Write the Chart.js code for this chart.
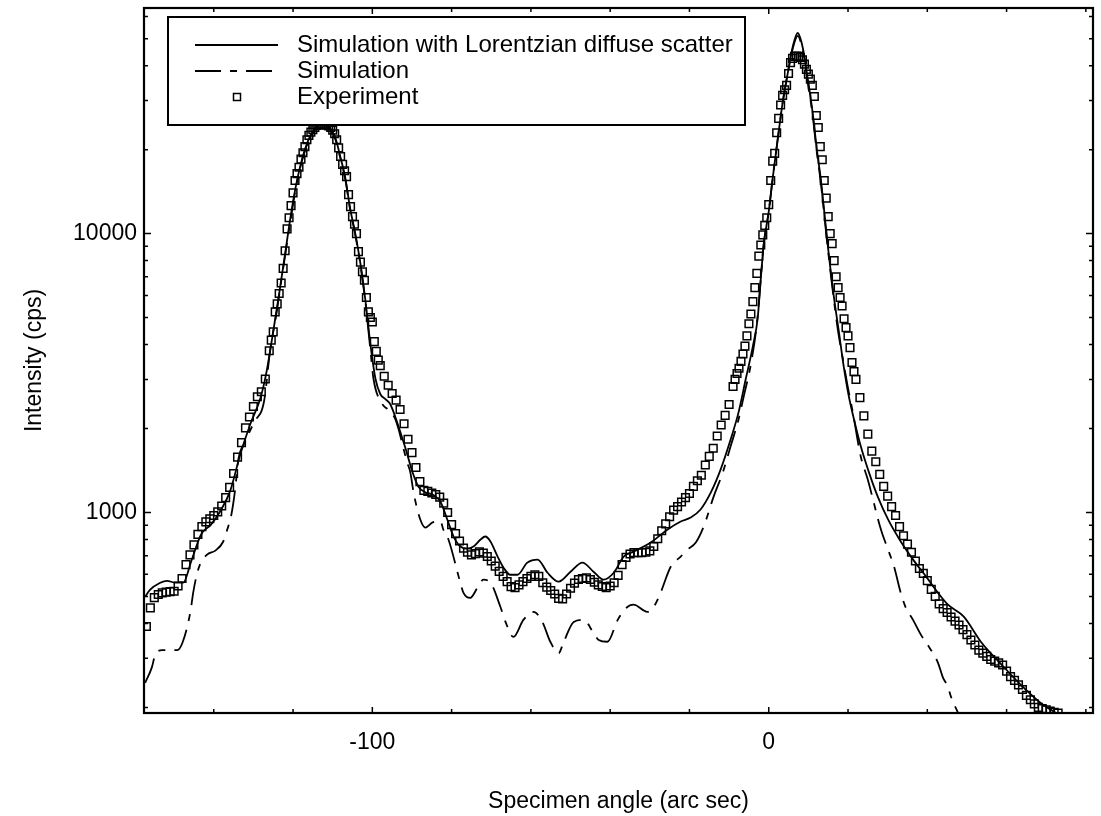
<!DOCTYPE html>
<html>
<head>
<meta charset="utf-8">
<script src="https://cdn.jsdelivr.net/npm/chart.js@4.4.1/dist/chart.umd.min.js"></script>
<style>
  html, body { margin: 0; padding: 0; background: #fff; }
  #wrap { width: 1101px; height: 816px; }
</style>
</head>
<body>
<div id="wrap"><canvas id="myChart"></canvas></div>
<script>
// experiment (open squares)
const expAngle = [
  -157,-156,-155,-154,-153,-152,-151,-150,-149,-148,
  -147,-146,-145,-144,-143,-142,-141,-140,-139,-138,
  -137,-136,-135,-134,-133,-132,-131,-130,-129,-128,
  -127,-126,-125.5,-125,-124.5,-124,-123.5,-123,-122.5,-122,
  -121.5,-121,-120.5,-120,-119.5,-119,-118.5,-118,-117.5,-117,
  -116.5,-116,-115.5,-115,-114.5,-114,-113.5,-113,-112.5,-112,
  -111.5,-111,-110.5,-110,-109.5,-109,-108.5,-108,-107.5,-107,
  -106.5,-106,-105.5,-105,-104.5,-104,-103.5,-103,-102.5,-102,
  -101.5,-101,-100.5,-100,-99.5,-99,-98.5,-98,-97,-96,
  -95,-94,-93,-92,-91,-90,-89,-88,-87,-86,
  -85,-84,-83,-82,-81,-80,-79,-78,-77,-76,
  -75,-74,-73,-72,-71,-70,-69,-68,-67,-66,
  -65,-64,-63,-62,-61,-60,-59,-58,-57,-56,
  -55,-54,-53,-52,-51,-50,-49,-48,-47,-46,
  -45,-44,-43,-42,-41,-40,-39,-38,-37,-36,
  -35,-34,-33,-32,-31,-30,-29,-28,-27,-26,
  -25,-24,-23,-22,-21,-20,-19,-18,-17,-16,
  -15,-14,-13,-12,-11,-10,-9,-8.5,-8,-7.5,
  -7,-6.5,-6,-5.5,-5,-4.5,-4,-3.5,-3,-2.5,
  -2,-1.5,-1,-0.5,0,0.5,1,1.5,2,2.5,
  3,3.5,4,4.5,5,5.5,6,6.5,7,7.5,
  8,8.5,9,9.5,10,10.5,11,11.5,12,12.5,
  13,13.5,14,14.5,15,15.5,16,16.5,17,17.5,
  18,18.5,19,19.5,20,20.5,21,21.5,22,23,
  24,25,26,27,28,29,30,31,32,33,
  34,35,36,37,38,39,40,41,42,43,
  44,45,46,47,48,49,50,51,52,53,
  54,55,56,57,58,59,60,61,62,63,
  64,65,66,67,68,69,70,71,72,73
];
const expCounts = [
  390,455,495,508,515,518,520,522,545,580,
  650,705,765,835,890,925,950,975,1005,1055,
  1130,1230,1380,1580,1780,2010,2200,2400,2600,2710,
  3010,3800,4150,4440,5240,5600,6100,6650,7500,8680,
  10400,11400,12600,14000,15500,16400,17300,18500,19500,20500,
  21700,22500,23100,23600,24000,24400,24550,24650,24700,24600,
  24450,24300,24000,23500,22800,21700,20300,18900,17700,16800,
  16000,13800,12500,11500,10800,10000,8620,7900,7300,6800,
  5900,5240,5000,4820,4100,3780,3520,3360,3080,2860,
  2670,2530,2340,2080,1830,1640,1450,1290,1200,1190,
  1175,1160,1135,1080,1000,905,840,790,745,720,
  705,712,722,715,695,670,642,615,590,565,
  542,538,550,565,580,590,598,590,560,540,
  525,510,492,490,510,535,558,575,580,583,
  575,562,550,543,538,545,560,595,650,690,
  710,718,718,718,720,728,755,805,860,910,
  965,1020,1050,1090,1130,1170,1240,1300,1360,1480,
  1590,1700,1880,2060,2230,2440,2830,3000,3150,3290,
  3480,3700,3950,4300,4750,5150,5700,6400,7200,8300,
  9100,9900,10700,11400,12700,15500,18200,19400,23000,25900,
  28900,31300,32800,34000,37500,41000,42500,43200,43300,43200,
  42800,42000,40500,38800,37300,35800,34000,31000,26500,24000,
  20500,18400,15500,13400,11500,10000,9200,8000,7000,6400,
  5900,5500,4950,4600,4300,3900,3450,3200,3000,2580,
  2220,1910,1660,1520,1370,1240,1145,1050,975,890,
  825,770,720,670,630,605,570,530,500,470,
  452,438,422,408,395,380,365,349,335,321,
  313,305,297,293,289,284,270,258,250,241,
  232,221,213,206,200,198,196,194,192,191
];

// simulation with Lorentzian diffuse scatter (solid)
const lorAngle = [
  -157.3,-156.1,-153.5,-151.8,-149.7,-147.7,-145.7,-143.2,-140.7,-138.4,
  -135.9,-133.3,-130.8,-128.3,-126.8,-125.3,-123.7,-122.0,-120.7,-119.4,
  -118.2,-116.9,-115.7,-114.4,-113.1,-111.9,-110.6,-109.3,-108.1,-106.8,
  -105.6,-104.3,-103.0,-101.8,-100.5,-99.2,-98.0,-96.7,-95.5,-94.2,
  -91.7,-89.9,-88.4,-86.6,-84.8,-82.8,-81.1,-79.5,-77.8,-76.0,
  -74.5,-72.7,-71.5,-70.2,-68.4,-66.9,-65.2,-63.4,-60.9,-58.3,
  -55.8,-53.0,-50.0,-47.0,-44.2,-41.7,-39.1,-36.6,-34.1,-29.8,
  -25.5,-22.2,-19.7,-17.2,-14.6,-12.1,-9.6,-7.6,-5.8,-4.0,
  -2.8,-2.0,-1.3,0.0,1.0,2.3,3.5,4.8,6.1,7.3,
  8.6,9.8,11.1,12.1,13.1,14.9,16.4,17.7,18.9,20.2,
  21.5,23.2,25.3,27.5,30.1,33.3,36.6,39.9,42.7,45.2,
  49.2,53.5,58.6,63.6,68.7,72.5,74.5
];
const lorCounts = [
  499,528,560,569,560,560,667,834,905,1008,
  1190,1617,2073,2550,3135,4190,5840,8470,11320,14520,
  17420,20220,22340,23870,24660,24660,23870,21970,18920,15780,
  12300,10000,7800,5840,4020,3010,2660,2550,2450,2200,
  1710,1400,1240,1180,1160,1090,944,820,755,742,
  755,800,820,787,695,634,598,598,661,678,
  608,565,613,661,613,574,608,695,724,780,
  869,928,959,1025,1180,1430,1830,2290,3010,3950,
  4950,6890,9060,12000,15800,22000,29400,37600,47100,52400,
  46300,36100,27000,20200,15800,9060,5980,4440,3350,2610,
  2160,1730,1390,1140,944,787,672,584,515,467,
  423,344,286,241,207,191,184
];

// simulation (dashed)
const simAngle = [
  -157.3,-155.6,-154.8,-153.0,-149.2,-147.9,-145.9,-145.2,-144.4,-143.4,
  -141.7,-139.6,-137.6,-136.6,-135.6,-134.6,-133.8,-132.3,-129.8,-127.3,
  -125.8,-124.2,-122.7,-120.7,-119.4,-118.2,-116.9,-115.7,-114.4,-113.1,
  -111.9,-110.6,-109.3,-108.1,-106.8,-105.6,-104.3,-103.0,-101.8,-100.5,
  -99.7,-97.5,-96.2,-94.2,-91.2,-90.4,-89.6,-87.9,-86.6,-84.8,
  -82.8,-82.1,-80.8,-77.8,-77.0,-75.3,-73.5,-72.0,-70.2,-67.7,
  -66.4,-64.4,-61.9,-59.3,-57.1,-55.1,-53.0,-51.8,-49.2,-46.7,
  -44.2,-42.9,-40.7,-38.1,-35.6,-34.1,-30.6,-29.0,-27.3,-24.7,
  -22.2,-20.5,-18.4,-16.4,-13.9,-11.6,-9.6,-7.6,-6.3,-4.5,
  -3.0,-2.0,-1.3,0.0,1.0,2.3,3.5,4.8,6.1,7.3,
  8.6,9.8,11.1,12.1,13.1,14.9,16.4,17.4,18.7,19.9,
  21.2,23.2,25.0,28.3,30.1,31.6,33.3,34.6,36.4,38.4,
  40.4,42.7,43.9,45.2,46.0,47.7,49.0
];
const simCounts = [
  245,279,308,321,321,341,440,515,589,655,
  706,730,787,869,975,1210,1550,1770,2110,2510,
  3800,5160,7180,11000,14300,17200,20000,22100,23600,24400,
  24400,23600,21700,18700,15600,12200,9900,7700,5750,3850,
  3010,2450,2350,2160,1510,1390,1180,944,883,921,
  929,869,800,560,515,494,537,574,560,459,
  405,358,412,440,405,344,313,341,405,412,
  370,349,344,412,459,467,440,459,515,640,
  695,736,780,891,1140,1390,1730,2160,2610,3410,
  4750,6890,9060,12000,15800,22000,29400,37600,46300,51200,
  45200,35200,26400,19700,15400,8840,5840,4550,3550,2840,
  2290,1590,1310,869,736,640,515,455,412,364,
  330,289,257,237,218,192,175
];

// axes
const xMin = -157.6, xMax = 81.8;
const yMin = 191, yMax = 64400;
const xTicks = [-140, -120, -100, -80, -60, -40, -20, 0, 20, 40, 60, 80];
const xLabelValues = [-100, 0];
const yTicks = [200, 300, 400, 500, 600, 700, 800, 900,
  1000, 2000, 3000, 4000, 5000, 6000, 7000, 8000, 9000,
  10000, 20000, 30000, 40000, 50000, 60000];
const yLabelValues = [1000, 10000];

const FONT = "'Liberation Sans', Arial, sans-serif";
const dashPattern = [26, 9, 7, 9];

const toPoints = (xs, ys) => xs.map((v, i) => ({ x: v, y: ys[i] }));

const frameAndLegend = {
  id: 'frameAndLegend',
  afterDatasetsDraw(chart) {
    const { ctx, chartArea: a, scales: { x, y } } = chart;
    ctx.save();
    ctx.strokeStyle = '#000';
    ctx.lineWidth = 1.5;
    ctx.setLineDash([]);
    ctx.beginPath();
    xTicks.forEach(v => {
      const px = x.getPixelForValue(v);
      const len = xLabelValues.includes(v) ? 6 : 4;
      ctx.moveTo(px, a.bottom); ctx.lineTo(px, a.bottom - len);
      ctx.moveTo(px, a.top); ctx.lineTo(px, a.top + len);
    });
    yTicks.forEach(v => {
      const py = y.getPixelForValue(v);
      const len = yLabelValues.includes(v) ? 7 : 4;
      ctx.moveTo(a.left, py); ctx.lineTo(a.left + len, py);
      ctx.moveTo(a.right, py); ctx.lineTo(a.right - len, py);
    });
    ctx.stroke();
    ctx.lineWidth = 2.2;
    ctx.strokeRect(a.left, a.top, a.right - a.left, a.bottom - a.top);

    // legend box
    const bx = 168, by = 17, bw = 577, bh = 108;
    ctx.lineWidth = 2;
    ctx.fillStyle = '#fff';
    ctx.fillRect(bx, by, bw, bh);
    ctx.strokeRect(bx, by, bw, bh);
    const rows = [45, 71, 97];
    ctx.font = '24px ' + FONT;
    ctx.textBaseline = 'middle';
    chart.data.datasets.forEach((ds, i) => {
      const ry = rows[i];
      ctx.strokeStyle = '#000';
      if (ds.showLine === false) {
        ctx.lineWidth = 1.5;
        ctx.setLineDash([]);
        ctx.strokeRect(233.5, ry - 3.5, 7, 7);
      } else {
        ctx.lineWidth = ds.borderWidth;
        ctx.setLineDash(ds.borderDash || []);
        ctx.beginPath();
        ctx.moveTo(195, ry); ctx.lineTo(278, ry);
        ctx.stroke();
      }
      ctx.setLineDash([]);
      ctx.fillStyle = '#000';
      ctx.fillText(ds.label, 297, ry);
    });
    ctx.restore();
  }
};

new Chart(document.getElementById('myChart'), {
  type: 'line',
  data: {
    datasets: [{
      label: 'Simulation with Lorentzian diffuse scatter',
      data: toPoints(lorAngle, lorCounts),
      borderColor: '#000',
      borderWidth: 1.8,
      pointRadius: 0,
      cubicInterpolationMode: 'monotone'
    },
    {
      label: 'Simulation',
      data: toPoints(simAngle, simCounts),
      borderColor: '#000',
      borderWidth: 1.8,
      borderDash: dashPattern,
      pointRadius: 0,
      cubicInterpolationMode: 'monotone'
    },
    {
      label: 'Experiment',
      data: toPoints(expAngle, expCounts),
      showLine: false,
      pointStyle: 'rect',
      pointRadius: 5.4,
      pointBorderWidth: 1.5,
      pointBorderColor: '#000',
      pointBackgroundColor: 'rgba(0,0,0,0)'
    }]
  },
  options: {
    responsive: true,
    maintainAspectRatio: false,
    animation: false,
    layout: { padding: { top: 8, right: 8, left: 0, bottom: 0 } },
    plugins: {
      legend: { display: false },
      tooltip: { enabled: false }
    },
    scales: {
      x: {
        type: 'linear',
        min: xMin,
        max: xMax,
        grid: { display: false, drawTicks: false },
        border: { display: false },
        afterBuildTicks: s => { s.ticks = xTicks.map(v => ({ value: v })); },
        afterFit: s => { s.height = 103; s.paddingLeft = 0; s.paddingRight = 0; },
        ticks: {
          autoSkip: false,
          maxRotation: 0,
          padding: 16,
          color: '#000',
          font: { family: FONT, size: 23 },
          callback: v => xLabelValues.includes(v) ? String(v) : null
        },
        title: {
          display: true,
          text: 'Specimen angle (arc sec)',
          color: '#000',
          font: { family: FONT, size: 23 },
          padding: { top: 0, bottom: 1 }
        }
      },
      y: {
        type: 'logarithmic',
        min: yMin,
        max: yMax,
        grid: { display: false, drawTicks: false },
        border: { display: false },
        afterBuildTicks: s => { s.ticks = yTicks.map(v => ({ value: v })); },
        afterFit: s => { s.width = 144; s.paddingTop = 0; s.paddingBottom = 0; },
        ticks: {
          autoSkip: false,
          padding: 7,
          color: '#000',
          font: { family: FONT, size: 23 },
          callback: v => yLabelValues.includes(v) ? String(v) : null
        },
        title: {
          display: true,
          text: 'Intensity (cps)',
          color: '#000',
          font: { family: FONT, size: 23 },
          padding: { top: 21, bottom: 0 }
        }
      }
    }
  },
  plugins: [frameAndLegend]
});
</script>
</body>
</html>
